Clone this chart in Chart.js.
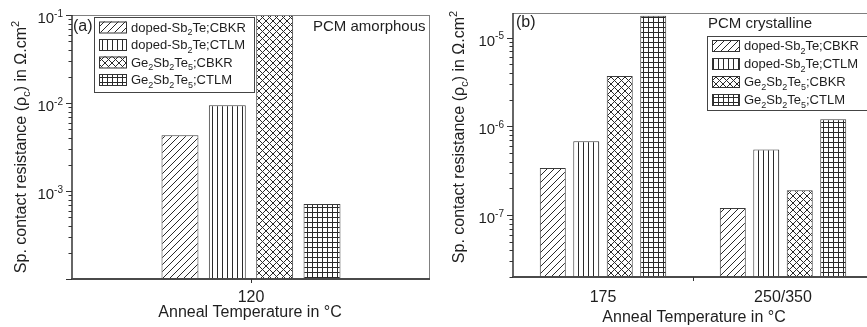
<!DOCTYPE html>
<html>
<head>
<meta charset="utf-8">
<script src="https://cdn.jsdelivr.net/npm/chart.js@4.4.0/dist/chart.umd.min.js"></script>
<style>
html, body { margin: 0; padding: 0; background: #fff; overflow: hidden; width: 867px; height: 327px; }
#chartA { position: absolute; left: 0; top: 0; }
#chartB { position: absolute; left: 436px; top: 0; }
</style>
</head>
<body>
<canvas id="chartA" width="436" height="327"></canvas>
<canvas id="chartB" width="444" height="327"></canvas>
<script>
// series names (_ = subscript)
var seriesNames = ['doped-Sb_2Te;CBKR', 'doped-Sb_2Te;CTLM', 'Ge_2Sb_2Te_5;CBKR', 'Ge_2Sb_2Te_5;CTLM'];
var hatches = ['diag', 'vert', 'cross', 'grid'];

// (a) PCM amorphous
var amorphousTemps = ['120'];
var amorphousDopedCBKR = [4.3e-3];
var amorphousDopedCTLM = [9.4e-3];
var amorphousGstCBKR = [1.0e-1];
var amorphousGstCTLM = [7.1e-4];
var amorphousTicks = [1e-1, 1e-2, 1e-3];
var amorphousTickLabels = ['10^{-1}', '10^{-2}', '10^{-3}'];

// (b) PCM crystalline
var crystTemps = ['175', '250/350'];
var crystDopedCBKR = [3.4e-7, 1.2e-7];
var crystDopedCTLM = [6.8e-7, 5.5e-7];
var crystGstCBKR = [3.7e-6, 1.9e-7];
var crystGstCTLM = [1.77e-5, 1.2e-6];
var crystTicks = [1e-5, 1e-6, 1e-7];
var crystTickLabels = ['10^{-5}', '10^{-6}', '10^{-7}'];

var yTitle = 'Sp. contact resistance (\u03c1_c) in \u03a9.cm^2';
var xTitle = 'Anneal Temperature in \u00b0C';
var FONT = '"Liberation Sans", Arial, sans-serif';

function makePattern(ctx, kind) {
  var s = {diag: 7, vert: 5, cross: 7, grid: 5}[kind];
  var c = document.createElement('canvas');
  c.width = s; c.height = s;
  var g = c.getContext('2d');
  g.fillStyle = '#fff';
  g.fillRect(0, 0, s, s);
  g.strokeStyle = '#2a2a2a';
  g.lineWidth = 1;
  g.beginPath();
  if (kind == 'diag' || kind == 'cross') {
    g.moveTo(0, s); g.lineTo(s, 0);
    g.moveTo(-1, 1); g.lineTo(1, -1);
    g.moveTo(s - 1, s + 1); g.lineTo(s + 1, s - 1);
  }
  if (kind == 'cross') {
    g.moveTo(0, 0); g.lineTo(s, s);
    g.moveTo(-1, s - 1); g.lineTo(1, s + 1);
    g.moveTo(s - 1, -1); g.lineTo(s + 1, 1);
  }
  if (kind == 'vert' || kind == 'grid') {
    g.moveTo(2.5, 0); g.lineTo(2.5, s);
  }
  if (kind == 'grid') {
    g.moveTo(0, 2.5); g.lineTo(s, 2.5);
  }
  g.stroke();
  return ctx.createPattern(c, 'repeat');
}

// split "Sb_2Te^{-1}" into parts with sub / sup flags
function parseRich(str) {
  var parts = [], buf = '', i = 0;
  while (i < str.length) {
    var ch = str[i];
    if (ch == '_' || ch == '^') {
      if (buf) { parts.push({t: buf, k: ''}); buf = ''; }
      var t;
      if (str[i + 1] == '{') {
        var end = str.indexOf('}', i);
        t = str.substring(i + 2, end);
        i = end + 1;
      } else {
        t = str[i + 1];
        i += 2;
      }
      parts.push({t: t, k: ch == '_' ? 'sub' : 'sup'});
    } else {
      buf += ch; i++;
    }
  }
  if (buf) parts.push({t: buf, k: ''});
  return parts;
}

function drawRich(ctx, str, x, y, size, align) {
  var parts = parseRich(str);
  var small = Math.round(size * 0.68);
  var w = 0;
  parts.forEach(function (p) {
    ctx.font = (p.k ? small : size) + 'px ' + FONT;
    p.w = ctx.measureText(p.t).width;
    w += p.w;
  });
  var cx = x;
  if (align == 'center') cx = x - w / 2;
  if (align == 'right') cx = x - w;
  ctx.textAlign = 'left';
  ctx.textBaseline = 'alphabetic';
  parts.forEach(function (p) {
    ctx.font = (p.k ? small : size) + 'px ' + FONT;
    var dy = 0;
    if (p.k == 'sub') dy = size * 0.28;
    if (p.k == 'sup') dy = -size * 0.42;
    ctx.fillText(p.t, cx, y + dy);
    cx += p.w;
  });
}

var panelPlugin = {
  id: 'panel',
  afterDatasetsDraw: function (chart, args, o) {
    var ctx = chart.ctx, a = chart.chartArea;
    var xs = chart.scales.x, ys = chart.scales.y;
    ctx.save();
    ctx.fillStyle = '#1e1e1e';

    // frame
    ctx.strokeStyle = '#808080';
    ctx.lineWidth = 1;
    ctx.beginPath();
    ctx.moveTo(a.left, a.top + 0.5); ctx.lineTo(a.right, a.top + 0.5);
    ctx.moveTo(a.right - 0.5, a.top); ctx.lineTo(a.right - 0.5, a.bottom);
    ctx.stroke();
    ctx.strokeStyle = '#333';
    ctx.lineWidth = 1.5;
    ctx.beginPath();
    ctx.moveTo(a.left, a.top); ctx.lineTo(a.left, a.bottom + 1);
    ctx.stroke();
    ctx.strokeStyle = '#4a4a4a';
    ctx.lineWidth = 2;
    ctx.beginPath();
    ctx.moveTo(a.left - 1, a.bottom); ctx.lineTo(a.right, a.bottom);
    ctx.stroke();

    // y ticks: majors and minors through the log scale
    ctx.strokeStyle = '#333';
    ctx.lineWidth = 1;
    ctx.beginPath();
    var lo = Math.floor(Math.log10(ys.min)), hi = Math.ceil(Math.log10(ys.max));
    for (var e = lo; e <= hi; e++) {
      for (var m = 1; m <= 9; m++) {
        var v = m * Math.pow(10, e);
        if (v < ys.min * 0.999 || v > ys.max * 1.001) continue;
        var py = Math.round(ys.getPixelForValue(v)) + 0.5;
        ctx.moveTo(a.left, py);
        ctx.lineTo(a.left - (m == 1 ? 6 : 3.5), py);
      }
    }
    // x ticks
    o.xTickAt.forEach(function (t) {
      var px = Math.round(xs.getPixelForValue(t[0]) * (1 - t[1]) + xs.getPixelForValue(t[0] + 1) * t[1]) + 0.5;
      ctx.moveTo(px, a.bottom);
      ctx.lineTo(px, a.bottom + 4);
    });
    ctx.stroke();

    // y tick labels
    o.yTicks.forEach(function (v, i) {
      var py = ys.getPixelForValue(v);
      drawRich(ctx, o.yTickLabels[i], a.left - 9, py + 8, 15, 'right');
    });
    // x tick labels
    xs.getLabels().forEach(function (lab, i) {
      ctx.font = '16px ' + FONT;
      ctx.textAlign = 'center';
      ctx.textBaseline = 'alphabetic';
      ctx.fillText(lab, xs.getPixelForValue(i), o.xLabelY);
    });
    // axis titles
    ctx.font = '16px ' + FONT;
    ctx.textAlign = 'center';
    ctx.fillText(xTitle, o.xTitleX, o.xTitleY);
    ctx.save();
    ctx.translate(o.yTitleX, o.yTitleY);
    ctx.rotate(-Math.PI / 2);
    drawRich(ctx, yTitle, 0, 6, 16, 'center');
    ctx.restore();

    // panel tag and note
    ctx.font = '16px ' + FONT;
    ctx.textAlign = 'left';
    ctx.textBaseline = 'middle';
    ctx.fillText(o.tag[0], o.tag[1], o.tag[2]);
    ctx.font = '15px ' + FONT;
    ctx.fillText(o.note[0], o.note[1], o.note[2]);

    // legend box
    var L = o.legend;
    ctx.fillStyle = '#fff';
    ctx.fillRect(L.x, L.y, L.w, L.h);
    ctx.strokeStyle = '#444';
    ctx.lineWidth = 1;
    ctx.strokeRect(L.x + 0.5, L.y + 0.5, L.w, L.h);
    chart.data.datasets.forEach(function (ds, i) {
      var ry = L.rows[i];
      ctx.fillStyle = ds.backgroundColor;
      ctx.fillRect(L.x + 5, ry - 5.5, 28, 11);
      ctx.strokeStyle = '#333';
      ctx.strokeRect(L.x + 5.5, ry - 5, 27, 11);
      ctx.fillStyle = '#1e1e1e';
      drawRich(ctx, seriesNames[i], L.x + 37, ry + 4.5, 13, 'left');
    });
    ctx.restore();
  }
};

function makeChart(id, labels, series, yMin, yMax, catPct, barPct, pad, opts) {
  var ctx = document.getElementById(id).getContext('2d');
  var datasets = series.map(function (vals, i) {
    return {
      label: seriesNames[i],
      data: vals,
      backgroundColor: makePattern(ctx, hatches[i]),
      borderColor: '#3a3a3a',
      borderWidth: 1,
      categoryPercentage: catPct,
      barPercentage: barPct
    };
  });
  return new Chart(ctx, {
    type: 'bar',
    data: { labels: labels, datasets: datasets },
    options: {
      responsive: false,
      animation: false,
      devicePixelRatio: 1,
      layout: { padding: pad },
      scales: {
        x: { display: false },
        y: { type: 'logarithmic', display: false, min: yMin, max: yMax }
      },
      plugins: {
        legend: { display: false },
        tooltip: { enabled: false },
        panel: opts
      }
    },
    plugins: [panelPlugin]
  });
}

makeChart('chartA', amorphousTemps,
  [amorphousDopedCBKR, amorphousDopedCTLM, amorphousGstCBKR, amorphousGstCTLM],
  1e-4, 1e-1, 0.529, 0.78,
  { left: 72, top: 15, right: 6, bottom: 48 },
  {
    yTicks: amorphousTicks, yTickLabels: amorphousTickLabels,
    xTickAt: [[0, 0]], xLabelY: 302,
    xTitleX: 250, xTitleY: 317, yTitleX: 20, yTitleY: 147,
    tag: ['(a)', 73, 27], note: ['PCM amorphous', 313, 27],
    legend: { x: 94, y: 17, w: 160, h: 75, rows: [27, 44.5, 62, 79.5] }
  });

makeChart('chartB', crystTemps,
  [crystDopedCBKR, crystDopedCTLM, crystGstCBKR, crystGstCTLM],
  2e-8, 1.9e-5, 0.744, 0.776,
  { left: 77, top: 13, right: 7, bottom: 50 },
  {
    yTicks: crystTicks, yTickLabels: crystTickLabels,
    xTickAt: [[0, 0.5]], xLabelY: 302,
    xTitleX: 258, xTitleY: 322, yTitleX: 22, yTitleY: 137,
    tag: ['(b)', 80, 23], note: ['PCM crystalline', 272, 24],
    legend: { x: 271, y: 36, w: 180, h: 74, rows: [45.5, 63.5, 81.5, 99.5] }
  });
</script>
</body>
</html>
